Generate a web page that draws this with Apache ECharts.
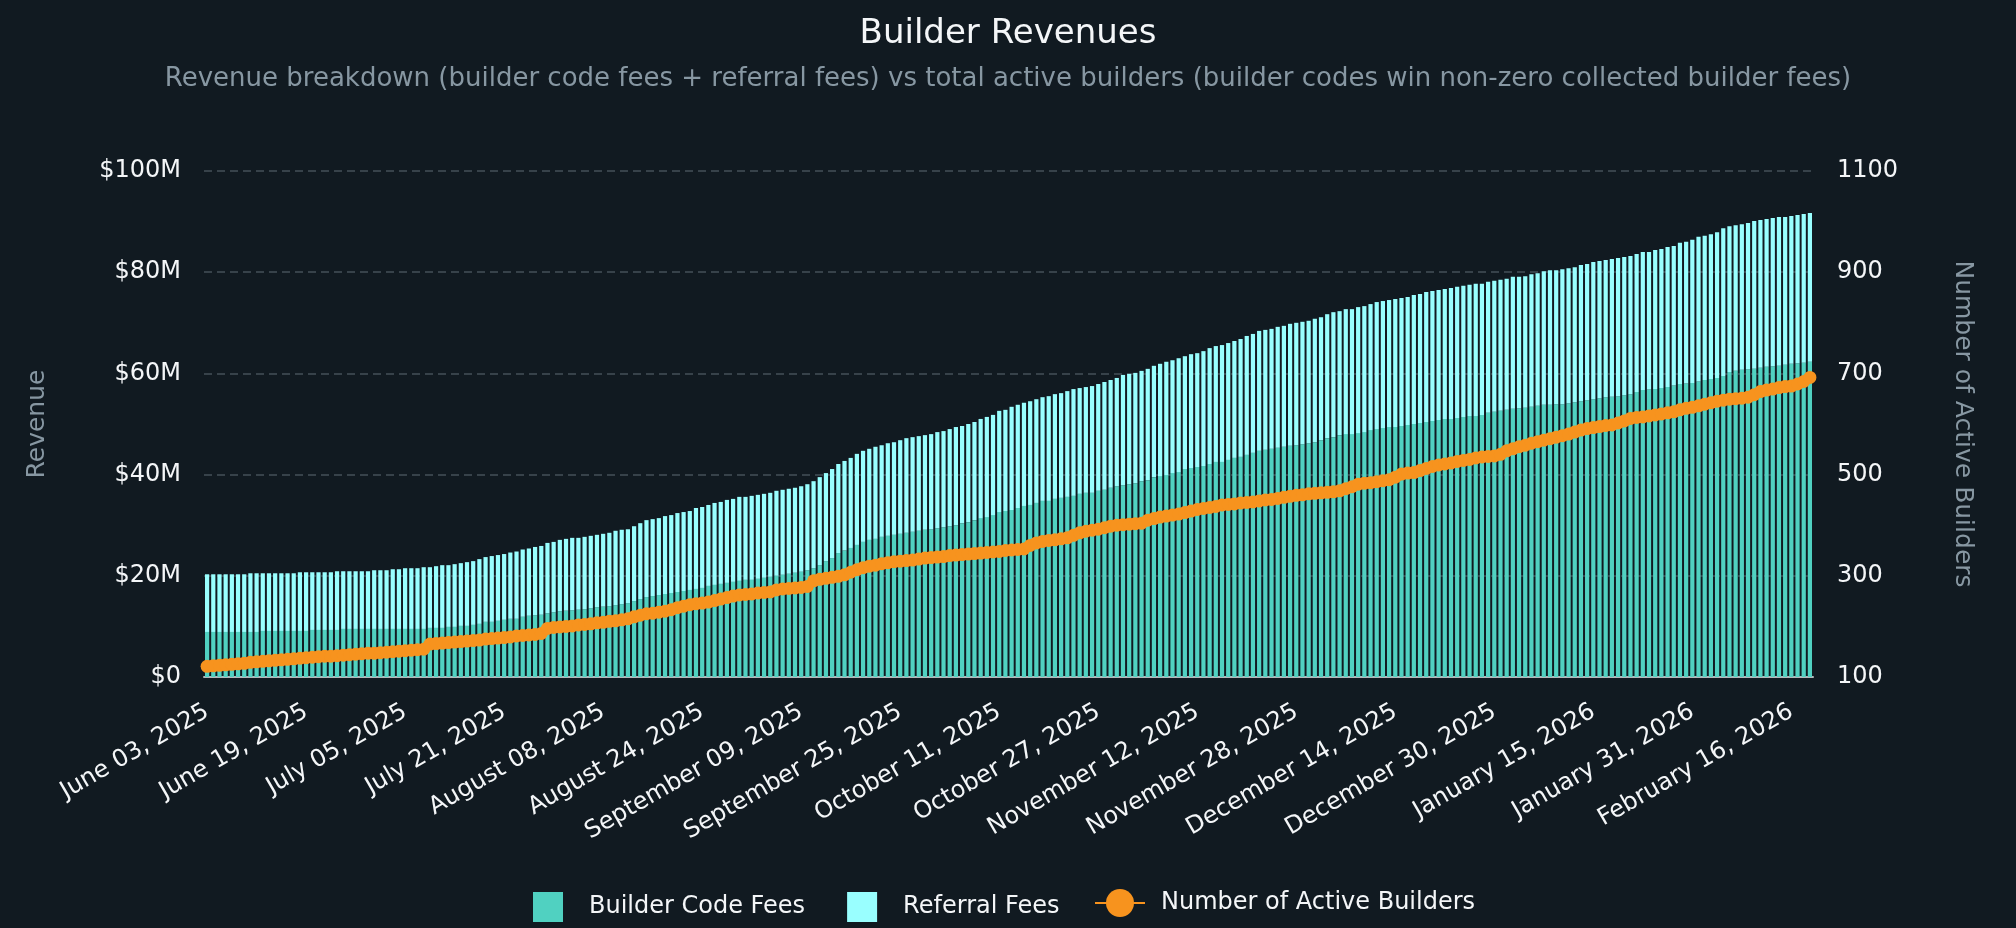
<!DOCTYPE html>
<html>
<head>
<meta charset="utf-8">
<title>Builder Revenues</title>
<script src="https://cdn.jsdelivr.net/npm/echarts@6.0.0/dist/echarts.min.js"></script>
<style>
  html, body { margin: 0; padding: 0; background: #111a21; }
  #chart { width: 2016px; height: 928px; }
</style>
</head>
<body>
<div id="chart"></div>
<script>
const WIDTH = 2016;
const HEIGHT = 928;
const FONT = "DejaVu Sans";

// one bar per reported day; two July days are absent from the source data
const START_DATE = "2025-06-03";
const SKIPPED_DATES = ["2025-07-28", "2025-07-29"];
const DAY_COUNT = 260;
const MONTH_NAMES = [
  "January", "February", "March", "April", "May", "June",
  "July", "August", "September", "October", "November", "December"
];

// cumulative fees, in millions of USD
const builderCodeFees = [
  8.9, 8.9, 8.9, 8.9, 8.9, 8.9, 8.9, 8.9, 8.9, 9.1,
  9.1, 9.1, 9.1, 9.1, 9.1, 9.1, 9.1, 9.3, 9.3, 9.3,
  9.3, 9.3, 9.5, 9.5, 9.5, 9.5, 9.5, 9.5, 9.5, 9.5,
  9.5, 9.5, 9.5, 9.5, 9.5, 9.5, 9.7, 9.7, 9.7, 9.9,
  9.9, 10.1, 10.1, 10.3, 10.5, 10.9, 10.9, 11.1, 11.3, 11.5,
  11.5, 11.9, 12.1, 12.2, 12.3, 12.6, 12.8, 13.0, 13.1, 13.2,
  13.3, 13.4, 13.6, 13.8, 13.9, 14.0, 14.2, 14.4, 14.6, 15.0,
  15.4, 15.8, 16.0, 16.2, 16.4, 16.6, 16.8, 17.0, 17.2, 17.4,
  17.6, 18.0, 18.2, 18.4, 18.6, 18.8, 19.0, 19.2, 19.2, 19.4,
  19.6, 19.8, 20.0, 20.2, 20.4, 20.6, 20.8, 21.1, 21.5, 22.1,
  22.9, 23.5, 24.5, 25.0, 25.5, 26.1, 26.7, 27.1, 27.3, 27.7,
  27.9, 28.1, 28.3, 28.5, 28.7, 28.9, 29.1, 29.2, 29.4, 29.6,
  29.8, 30.0, 30.4, 30.6, 31.0, 31.4, 31.6, 32.0, 32.6, 32.8,
  33.0, 33.4, 33.8, 34.0, 34.4, 34.8, 34.8, 35.2, 35.4, 35.6,
  35.8, 36.2, 36.4, 36.4, 36.8, 37.0, 37.4, 37.7, 37.9, 38.1,
  38.3, 38.7, 38.9, 39.5, 39.7, 39.9, 40.3, 40.5, 41.1, 41.3,
  41.5, 41.7, 42.1, 42.5, 42.5, 42.9, 43.3, 43.5, 43.9, 44.3,
  44.7, 44.9, 45.1, 45.3, 45.5, 45.7, 45.8, 46.0, 46.2, 46.4,
  46.8, 47.2, 47.4, 47.8, 48.0, 48.0, 48.2, 48.4, 48.8, 49.0,
  49.2, 49.4, 49.4, 49.6, 49.8, 50.0, 50.2, 50.4, 50.6, 50.8,
  51.0, 51.0, 51.2, 51.4, 51.6, 51.6, 51.8, 52.2, 52.4, 52.6,
  52.8, 53.0, 53.1, 53.2, 53.4, 53.6, 53.8, 53.8, 53.9, 53.9,
  54.1, 54.3, 54.5, 54.7, 54.9, 55.1, 55.3, 55.4, 55.5, 55.7,
  55.9, 56.3, 56.7, 56.8, 56.9, 57.1, 57.3, 57.6, 57.9, 58.0,
  58.1, 58.4, 58.7, 58.9, 59.1, 59.5, 60.3, 60.5, 60.7, 60.8,
  60.9, 61.1, 61.3, 61.4, 61.5, 61.7, 61.9, 62.0, 62.1, 62.3
];

const referralFees = [
  11.4, 11.4, 11.4, 11.4, 11.4, 11.4, 11.4, 11.6, 11.6, 11.4,
  11.4, 11.4, 11.4, 11.4, 11.4, 11.6, 11.6, 11.4, 11.4, 11.4,
  11.4, 11.6, 11.4, 11.4, 11.4, 11.4, 11.4, 11.6, 11.6, 11.6,
  11.8, 11.8, 12.0, 12.0, 12.0, 12.2, 12.0, 12.2, 12.4, 12.2,
  12.4, 12.4, 12.6, 12.6, 12.8, 12.8, 13.0, 13.0, 13.0, 13.1,
  13.3, 13.3, 13.3, 13.5, 13.6, 13.9, 13.9, 14.1, 14.2, 14.3,
  14.2, 14.3, 14.3, 14.3, 14.4, 14.5, 14.7, 14.7, 14.6, 14.8,
  15.0, 15.2, 15.2, 15.2, 15.4, 15.4, 15.6, 15.6, 15.6, 16.0,
  16.0, 16.0, 16.2, 16.2, 16.4, 16.4, 16.6, 16.4, 16.6, 16.6,
  16.6, 16.6, 16.8, 16.8, 16.8, 16.8, 16.9, 17.0, 17.2, 17.4,
  17.4, 17.6, 17.6, 17.7, 17.8, 18.0, 18.0, 18.0, 18.2, 18.1,
  18.3, 18.3, 18.5, 18.7, 18.7, 18.7, 18.7, 18.8, 19.0, 19.0,
  19.2, 19.4, 19.2, 19.4, 19.4, 19.6, 19.8, 19.8, 20.0, 20.0,
  20.4, 20.4, 20.4, 20.5, 20.5, 20.5, 20.7, 20.7, 20.7, 20.9,
  21.1, 20.9, 20.9, 21.1, 21.1, 21.3, 21.3, 21.4, 21.8, 21.8,
  21.8, 21.8, 22.0, 22.0, 22.2, 22.4, 22.3, 22.5, 22.3, 22.5,
  22.5, 22.7, 22.9, 22.9, 23.1, 23.1, 23.1, 23.3, 23.5, 23.5,
  23.7, 23.7, 23.7, 23.9, 23.9, 24.1, 24.2, 24.2, 24.2, 24.4,
  24.3, 24.5, 24.7, 24.5, 24.7, 24.7, 24.9, 24.9, 24.9, 25.1,
  25.1, 25.1, 25.3, 25.3, 25.3, 25.5, 25.5, 25.7, 25.7, 25.7,
  25.7, 25.9, 25.9, 25.9, 25.9, 26.1, 25.9, 25.9, 25.9, 25.9,
  25.9, 26.1, 26.0, 26.0, 26.2, 26.2, 26.4, 26.6, 26.5, 26.7,
  26.7, 26.7, 26.9, 26.9, 27.1, 27.1, 27.1, 27.2, 27.3, 27.3,
  27.3, 27.3, 27.3, 27.2, 27.5, 27.5, 27.7, 27.6, 27.9, 28.0,
  28.3, 28.6, 28.5, 28.6, 28.8, 29.2, 28.8, 28.8, 28.8, 28.9,
  29.2, 29.2, 29.2, 29.3, 29.4, 29.2, 29.2, 29.3, 29.4, 29.4
];

const activeBuilders = [
  121, 122, 123, 124, 125, 126, 127, 129, 130, 131,
  132, 133, 134, 135, 136, 137, 138, 139, 140, 141,
  141, 142, 143, 144, 145, 146, 147, 147, 148, 149,
  150, 151, 152, 153, 154, 155, 165, 166, 167, 168,
  169, 170, 171, 172, 173, 175, 176, 177, 178, 179,
  181, 182, 183, 184, 186, 196, 198, 199, 200, 201,
  203, 204, 205, 207, 208, 210, 211, 213, 215, 219,
  222, 225, 226, 228, 230, 233, 237, 240, 243, 245,
  246, 248, 251, 254, 257, 260, 262, 263, 264, 266,
  267, 268, 272, 274, 275, 276, 277, 279, 290, 293,
  295, 297, 299, 302, 307, 312, 316, 319, 321, 324,
  326, 328, 329, 330, 331, 333, 335, 336, 337, 338,
  340, 341, 342, 343, 344, 345, 346, 347, 348, 350,
  351, 352, 353, 360, 365, 368, 370, 371, 373, 375,
  380, 385, 388, 390, 392, 395, 398, 400, 401, 402,
  403, 404, 410, 413, 416, 418, 420, 422, 425, 428,
  431, 433, 435, 437, 440, 441, 442, 444, 445, 446,
  448, 450, 451, 453, 455, 457, 459, 460, 462, 463,
  464, 465, 466, 468, 472, 476, 481, 483, 484, 486,
  488, 490, 495, 501, 503, 504, 508, 512, 516, 519,
  521, 523, 526, 528, 530, 533, 535, 536, 537, 540,
  547, 551, 555, 558, 562, 565, 568, 571, 574, 577,
  580, 584, 588, 591, 593, 595, 597, 598, 602, 606,
  611, 613, 614, 616, 618, 620, 622, 624, 628, 631,
  633, 636, 639, 642, 645, 647, 649, 650, 651, 653,
  658, 664, 667, 669, 672, 674, 675, 679, 684, 692
];

const COLORS = {
  background: "#111a21",
  builderCode: "#50d1c1",
  referral: "#99ffff",
  builders: "#f7931e",
  text: "#f4f6f8",
  muted: "#8797a2",
  grid: "#37424a",
  axis: "#b4b8bb"
};

function buildDayLabels() {
  const labels = [];
  const day = new Date(START_DATE + "T00:00:00Z");
  while (labels.length < DAY_COUNT) {
    const iso = day.toISOString().slice(0, 10);
    if (!SKIPPED_DATES.includes(iso)) {
      const dd = String(day.getUTCDate()).padStart(2, "0");
      labels.push(`${MONTH_NAMES[day.getUTCMonth()]} ${dd}, ${day.getUTCFullYear()}`);
    }
    day.setUTCDate(day.getUTCDate() + 1);
  }
  return labels;
}

const days = buildDayLabels();

const chart = echarts.init(document.getElementById("chart"), null, {
  renderer: "canvas",
  width: WIDTH,
  height: HEIGHT
});

chart.setOption({
  backgroundColor: COLORS.background,
  animation: false,
  textStyle: { fontFamily: FONT },
  title: [
    {
      text: "Builder Revenues",
      left: "center",
      top: 12,
      textStyle: { color: COLORS.text, fontSize: 34, fontWeight: "normal", fontFamily: FONT }
    },
    {
      text: "Revenue breakdown (builder code fees + referral fees) vs total active builders (builder codes win non-zero collected builder fees)",
      left: "center",
      top: 61,
      textStyle: { color: COLORS.muted, fontSize: 26, fontWeight: "normal", fontFamily: FONT }
    }
  ],
  legend: [
    {
      left: 528,
      top: 887,
      itemWidth: 30,
      itemHeight: 30,
      itemGap: 42,
      textStyle: { color: COLORS.text, fontSize: 24, fontFamily: FONT, padding: [0, 0, 0, 21] },
      data: [
        { name: "Builder Code Fees", icon: "rect" },
        { name: "Referral Fees", icon: "rect" }
      ]
    },
    {
      left: 1089,
      top: 884,
      itemWidth: 50,
      itemHeight: 35,
      textStyle: { color: COLORS.text, fontSize: 24, fontFamily: FONT, padding: [0, 0, 0, 11] },
      data: ["Number of Active Builders"]
    }
  ],
  grid: { left: 204, right: 203, top: 171, bottom: 251, containLabel: false },
  xAxis: {
    type: "category",
    data: days,
    boundaryGap: true,
    axisLine: { show: true, lineStyle: { color: COLORS.axis, width: 2 } },
    axisTick: { show: false },
    axisLabel: {
      interval: 15,
      rotate: 30,
      margin: 33,
      color: COLORS.text,
      fontSize: 24,
      fontFamily: FONT,
      hideOverlap: false
    },
    splitLine: { show: false }
  },
  yAxis: [
    {
      type: "value",
      min: 0,
      max: 100,
      interval: 20,
      name: "Revenue",
      nameLocation: "middle",
      nameRotate: 90,
      nameGap: 154,
      nameTextStyle: { color: COLORS.muted, fontSize: 25, fontFamily: FONT },
      axisLine: { show: false },
      axisTick: { show: false },
      axisLabel: {
        margin: 23,
        color: COLORS.text,
        fontSize: 24,
        fontFamily: FONT,
        formatter: (v) => (v === 0 ? "$0" : `$${v}M`)
      },
      splitLine: { show: true, lineStyle: { color: COLORS.grid, width: 2, type: [8, 5] } }
    },
    {
      type: "value",
      min: 100,
      max: 1100,
      interval: 200,
      position: "right",
      name: "Number of Active Builders",
      nameLocation: "middle",
      nameRotate: -90,
      nameGap: 137,
      nameTextStyle: { color: COLORS.muted, fontSize: 25, fontFamily: FONT },
      axisLine: { show: false },
      axisTick: { show: false },
      axisLabel: {
        margin: 24,
        color: COLORS.text,
        fontSize: 24,
        fontFamily: FONT,
        formatter: (v) => String(v)
      },
      splitLine: { show: false }
    }
  ],
  series: [
    {
      name: "Builder Code Fees",
      type: "bar",
      stack: "revenue",
      yAxisIndex: 0,
      barCategoryGap: "32%",
      itemStyle: { color: COLORS.builderCode },
      data: builderCodeFees
    },
    {
      name: "Referral Fees",
      type: "bar",
      stack: "revenue",
      yAxisIndex: 0,
      barCategoryGap: "32%",
      itemStyle: { color: COLORS.referral },
      data: referralFees
    },
    {
      name: "Number of Active Builders",
      type: "line",
      yAxisIndex: 1,
      z: 5,
      symbol: "circle",
      symbolSize: 13,
      showAllSymbol: true,
      lineStyle: { color: COLORS.builders, width: 4 },
      itemStyle: { color: COLORS.builders },
      data: activeBuilders
    }
  ]
});
</script>
</body>
</html>
